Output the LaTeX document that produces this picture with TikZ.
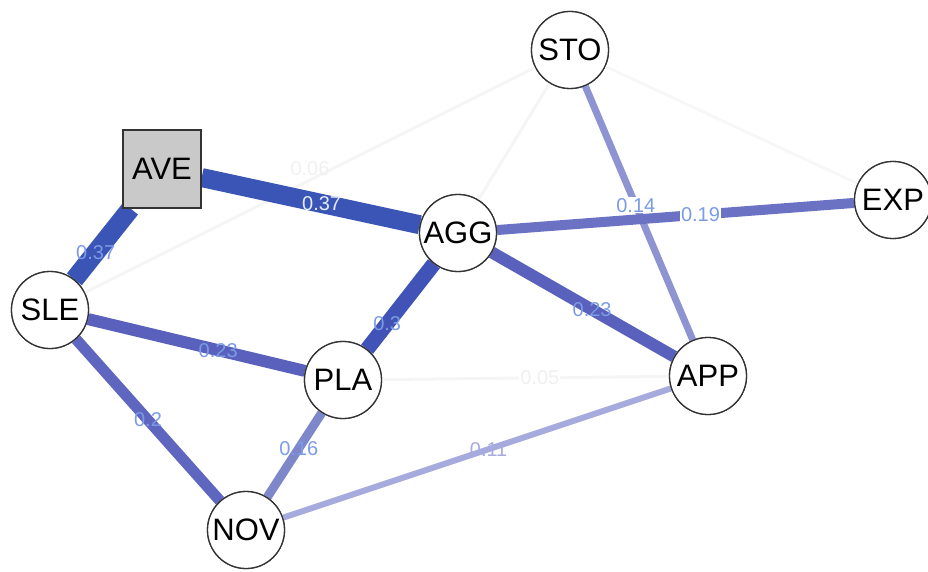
\documentclass[tikz,border=0pt]{standalone}
\usepackage{fontspec}
\setmainfont{Liberation Sans}
\begin{document}
\begin{tikzpicture}[x=1pt,y=-1pt,
  vnode/.style={circle,draw=black!80,line width=1.3pt,fill=white,minimum size=77pt,inner sep=0pt,font=\fontsize{31}{33}\selectfont},
  snode/.style={rectangle,draw=black!80,line width=1.3pt,fill=black!21,minimum size=78pt,inner sep=0pt,font=\fontsize{31}{33}\selectfont},
  elab/.style={font=\fontsize{20}{22}\selectfont,inner sep=1pt},
  faint/.style={draw=black!4,line width=3pt},
]
\useasboundingbox (0,0) rectangle (928,572);
\definecolor{e37}{HTML}{3A55B5}
\definecolor{e30}{HTML}{4153B6}
\definecolor{e23}{HTML}{5961BC}
\definecolor{e20}{HTML}{5E66BF}
\definecolor{e19}{HTML}{6C72C3}
\definecolor{e16}{HTML}{7F87CB}
\definecolor{e14}{HTML}{8E94D1}
\definecolor{e11}{HTML}{A6AADD}
\definecolor{lab}{HTML}{7B9BE6}
\definecolor{labw}{HTML}{E4EBFF}

\node[vnode] (STO) at (570,50) {STO};
\node[snode] (AVE) at (162,169) {AVE};
\node[vnode] (AGG) at (458,233) {AGG};
\node[vnode] (EXP) at (893,200) {EXP};
\node[vnode] (SLE) at (50,310) {SLE};
\node[vnode] (PLA) at (343,380) {PLA};
\node[vnode] (APP) at (708,376) {APP};
\node[vnode] (NOV) at (246,530) {NOV};

% faint edges
\draw[faint] (SLE) -- node[elab,pos=0.5,text=black!6,above=2pt] {0.06} (STO);
\draw[faint] (STO) -- (AGG);
\draw[faint,draw=black!3] (STO) -- (EXP);
\draw[faint] (PLA) -- node[elab,pos=0.55,text=black!6,fill=white] {0.05} (APP);

% coloured edges
\draw[draw=e11,line width=6pt] (NOV) -- node[elab,pos=0.53,text=e11] {0.11} (APP);
\draw[draw=e14,line width=7pt] (STO) -- node[elab,pos=0.47,text=lab,fill=white] {0.14} (APP);
\draw[draw=e19,line width=10pt] (AGG) -- node[elab,pos=0.57,text=lab,fill=white] {0.19} (EXP);
\draw[draw=e23,line width=12pt] (AGG) -- node[elab,pos=0.55,text=lab] {0.23} (APP);
\draw[draw=e23,line width=12pt] (SLE) -- node[elab,pos=0.6,text=lab] {0.23} (PLA);
\draw[draw=e20,line width=11pt] (SLE) -- node[elab,pos=0.5,text=lab] {0.2} (NOV);
\draw[draw=e16,line width=9pt] (NOV) -- node[elab,pos=0.58,text=lab] {0.16} (PLA);
\draw[draw=e30,line width=15pt] (PLA) -- node[elab,pos=0.3,text=lab] {0.3} (AGG);
\draw[draw=e37,line width=19pt] (AVE) -- node[elab,pos=0.55,text=labw] {0.37} (AGG);
\draw[draw=e37,line width=19pt] (AVE) -- node[elab,pos=0.62,text=lab] {0.37} (SLE);

% redraw nodes on top
\node[vnode] at (STO) {STO};
\node[snode] at (AVE) {AVE};
\node[vnode] at (AGG) {AGG};
\node[vnode] at (EXP) {EXP};
\node[vnode] at (SLE) {SLE};
\node[vnode] at (PLA) {PLA};
\node[vnode] at (APP) {APP};
\node[vnode] at (NOV) {NOV};
\end{tikzpicture}
\end{document}
